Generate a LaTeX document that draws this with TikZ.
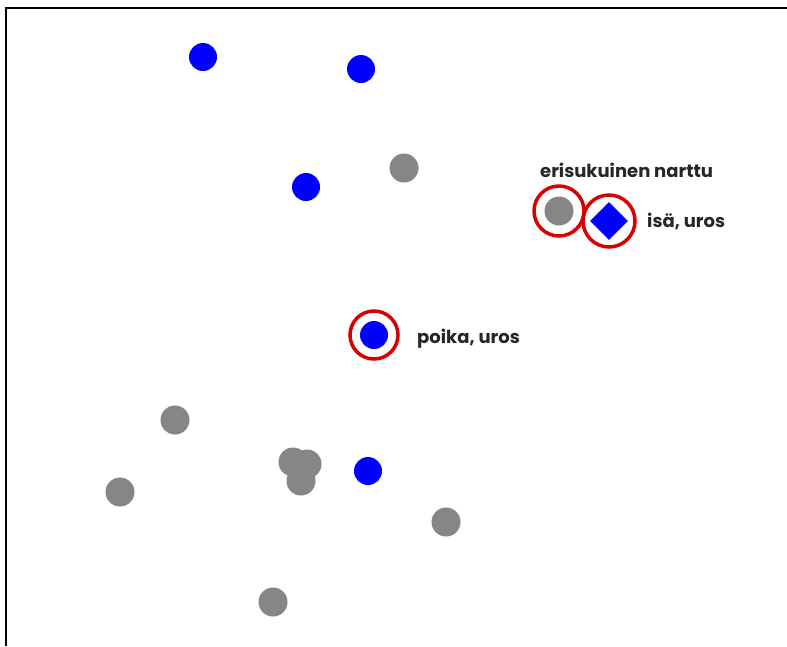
\documentclass[tikz,border=0pt]{standalone}
\usepackage{fontspec}
\setmainfont{Poppins}
\usetikzlibrary{shapes.geometric}
\begin{document}
\begin{tikzpicture}[x=1pt,y=-1pt,
  bdot/.style={circle,fill=blue,inner sep=0pt,minimum size=28pt},
  gdot/.style={circle,fill=gray!95,inner sep=0pt,minimum size=29pt},
  ring/.style={circle,draw=red!85!black,line width=3.5pt,inner sep=0pt,minimum size=50pt},
  lbl/.style={font=\bfseries\fontsize{18}{21}\selectfont,text=black!85,inner sep=0pt,anchor=base west}]
\useasboundingbox (0,0) rectangle (787,646);
\fill[white] (0,0) rectangle (787,646);
\draw[line width=2.8pt] (6,646) -- (6,8) -- (787,8);
% blue dots
\node[bdot] (b1) at (203,57) {};
\node[bdot] (b2) at (361,69) {};
\node[bdot] (b3) at (306,187) {};
\node[bdot] (b4) at (374,335) {};
\node[bdot] (b5) at (368,471) {};
% gray dots
\node[gdot] (g1) at (404,168) {};
\node[gdot] (g2) at (559,211) {};
\node[gdot] (g3) at (175,420) {};
\node[gdot] (g4) at (293,462) {};
\node[gdot] (g6) at (301,481) {};
\node[gdot] (g5) at (307,464) {};
\node[gdot] (g7) at (120,492) {};
\node[gdot] (g8) at (446,522) {};
\node[gdot] (g9) at (273,602) {};
% diamond
\node[diamond,fill=blue,inner sep=0pt,minimum width=38pt,minimum height=38pt,draw=none] (d) at (609,221) {};
% rings
\node[ring] (r1) at (g2) {};
\node[ring,minimum size=52pt] (r2) at (d) {};
\node[ring,minimum size=48pt] (r3) at (b4) {};
% labels
\node[lbl] (t1) at (540,177) {erisukuinen narttu};
\node[lbl] (t2) at (647,227) {isä, uros};
\node[lbl] (t3) at (417,343) {poika, uros};
\end{tikzpicture}
\end{document}
